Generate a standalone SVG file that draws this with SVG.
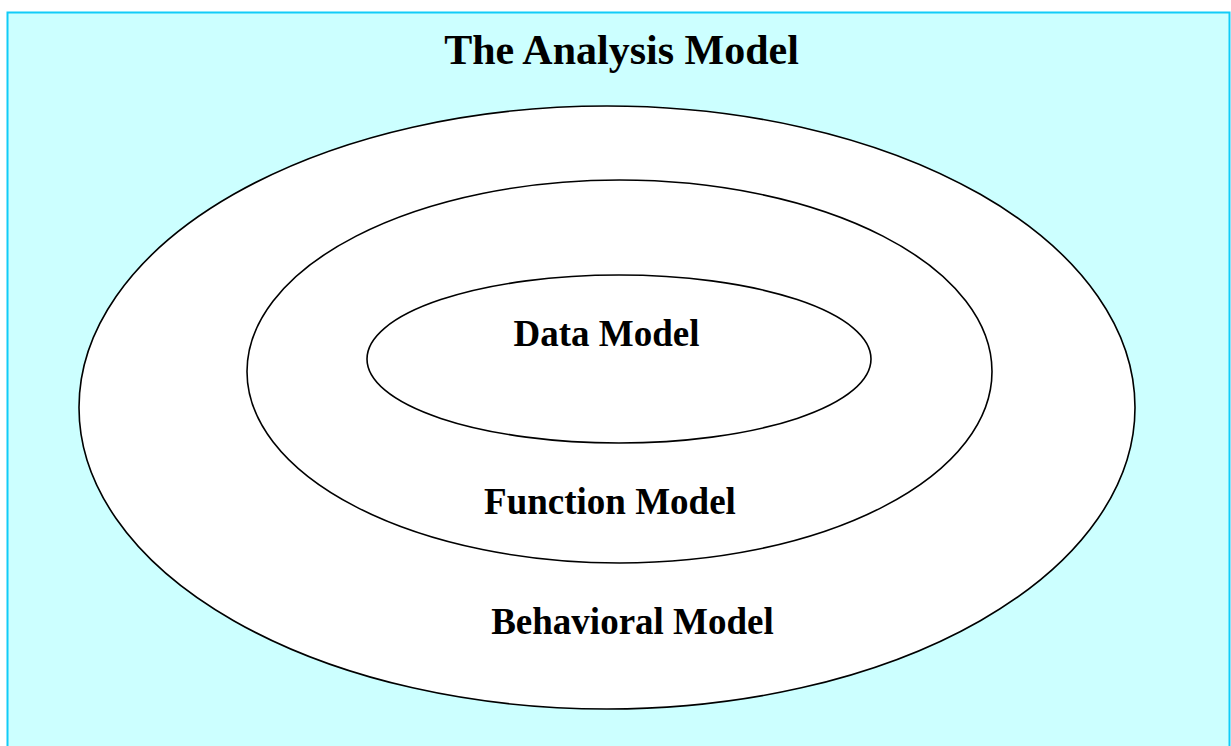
<svg xmlns="http://www.w3.org/2000/svg" width="1231" height="746" viewBox="0 0 1231 746">
<style>
.ring{fill:#ffffff;stroke:#000000;stroke-width:1.6}
.lbl{font-family:"Liberation Serif","Times New Roman",serif;font-weight:bold;font-size:37px;fill:#000000;text-anchor:middle}
.title{font-size:42px}
</style>
<rect x="7.5" y="12.5" width="1222" height="745" fill="#ccffff" stroke="#11ccf8" stroke-width="2"/>
<text class="lbl title" x="621.5" y="64">The Analysis Model</text>
<g id="behavioral-model">
<ellipse class="ring" cx="607" cy="407.5" rx="528" ry="301.5"/>
<text class="lbl" x="632.5" y="634">Behavioral Model</text>
</g>
<g id="function-model">
<ellipse class="ring" cx="619.5" cy="371.5" rx="372.5" ry="191.5"/>
<text class="lbl" x="610" y="514">Function Model</text>
</g>
<g id="data-model">
<ellipse class="ring" cx="619" cy="359" rx="252" ry="84"/>
<text class="lbl" x="606.5" y="346">Data Model</text>
</g>
<g id="connectors"></g>
</svg>
